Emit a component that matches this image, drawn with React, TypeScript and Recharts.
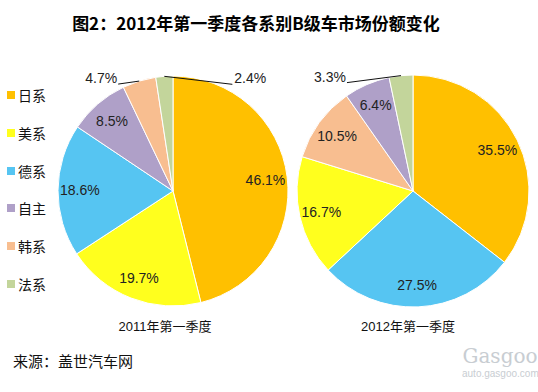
import { Pie, PieChart, Cell } from "recharts";

const brands = ["日系", "美系", "德系", "自主", "韩系", "法系"];
const colors = ["#FFC000", "#FFFF1E", "#56C5F2", "#AFA0C8", "#F8BE90", "#C3D59B"];

// 2011Q1, clockwise from 12 o'clock
const order2011 = ["日系", "美系", "德系", "自主", "韩系", "法系"];
const share2011 = [46.1, 19.7, 18.6, 8.5, 4.7, 2.4];

// 2012Q1, clockwise from 12 o'clock
const order2012 = ["日系", "德系", "美系", "韩系", "自主", "法系"];
const share2012 = [35.5, 27.5, 16.7, 10.5, 6.4, 3.3];

const font = "'Liberation Sans', Arial, 'Noto Sans CJK SC', sans-serif";
const RAD = Math.PI / 180;

// leader-line end offsets for the thin slices (from slice edge)
const callouts2011: Record<string, [number, number]> = { 韩系: [-21, 3], 法系: [68, 8] };
const callouts2012: Record<string, [number, number]> = { 法系: [-54, 7] };

function makeLabel(callouts: Record<string, [number, number]>) {
  return (props: any) => {
    const { cx, cy, midAngle, outerRadius, payload, value } = props;
    const text = `${value.toFixed(1)}%`;
    const co = callouts[payload.name];
    if (co) {
      const sx = cx + outerRadius * Math.cos(-midAngle * RAD);
      const sy = cy + outerRadius * Math.sin(-midAngle * RAD);
      const ex = sx + co[0];
      const ey = sy + co[1];
      const left = co[0] < 0;
      return (
        <g>
          <line x1={sx} y1={sy} x2={ex} y2={ey} stroke="#111" strokeWidth={1} />
          <text x={left ? ex - 1 : ex + 2} y={ey - 6} textAnchor={left ? "end" : "start"}
            dominantBaseline="central" fontSize={14} fill="#222" fontFamily={font}>{text}</text>
        </g>
      );
    }
    const r = outerRadius * 0.81;
    const x = cx + r * Math.cos(-midAngle * RAD);
    const y = cy + r * Math.sin(-midAngle * RAD);
    return (
      <text x={x} y={y} textAnchor="middle" dominantBaseline="central" fontSize={14}
        fill="#222" fontFamily={font}>{text}</text>
    );
  };
}

const rows2011 = order2011.map((name, i) => ({ name, value: share2011[i] }));
const rows2012 = order2012.map((name, i) => ({ name, value: share2012[i] }));
const colorOf = (name: string) => colors[brands.indexOf(name)];

export default function App() {
  return (
    <div style={{ position: "absolute", left: 0, top: 0, width: 538, height: 392, background: "#fff", fontFamily: font }}>
      <div style={{ position: "absolute", left: 0, width: 512, top: 10, textAlign: "center", fontSize: 17, fontWeight: "bold", color: "#000", fontFamily: "'Noto Sans CJK SC', sans-serif" }}>
        图2：2012年第一季度各系别B级车市场份额变化
      </div>
      <PieChart width={538} height={320} margin={{ top: 0, right: 0, bottom: 0, left: 0 }}
        style={{ position: "absolute", left: 0, top: 0 }}>
        <Pie data={rows2011} dataKey="value" nameKey="name" cx={173} cy={191} outerRadius={115}
          startAngle={90} endAngle={-270} stroke="#fff" strokeWidth={1} labelLine={false}
          label={makeLabel(callouts2011)} isAnimationActive={false}>
          {rows2011.map((r) => <Cell key={r.name} fill={colorOf(r.name)} />)}
        </Pie>
        <Pie data={rows2012} dataKey="value" nameKey="name" cx={413} cy={191} outerRadius={116}
          startAngle={90} endAngle={-270} stroke="#fff" strokeWidth={1} labelLine={false}
          label={makeLabel(callouts2012)} isAnimationActive={false}>
          {rows2012.map((r) => <Cell key={r.name} fill={colorOf(r.name)} />)}
        </Pie>
      </PieChart>
      {brands.map((b, i) => (
        <div key={b} style={{ position: "absolute", left: 7, top: 95 + i * 37.8 - 10, height: 20, display: "flex", alignItems: "center", fontSize: 14, color: "#111", fontFamily: "'Noto Sans CJK SC', sans-serif" }}>
          <span style={{ display: "inline-block", width: 8, height: 8, background: colors[i], marginRight: 3 }} />
          {b}
        </div>
      ))}
      <div style={{ position: "absolute", left: 65, width: 200, top: 316, textAlign: "center", fontSize: 13, color: "#111" }}>2011年第一季度</div>
      <div style={{ position: "absolute", left: 308, width: 200, top: 316, textAlign: "center", fontSize: 13, color: "#111" }}>2012年第一季度</div>
      <div style={{ position: "absolute", left: 13, top: 350, fontSize: 15, color: "#111", fontFamily: "'Noto Sans CJK SC', sans-serif" }}>来源：盖世汽车网</div>
      <div style={{ position: "absolute", left: 462, top: 346, width: 76, textAlign: "center", color: "#c8cdd2" }}>
        <div style={{ fontSize: 20, fontFamily: "'DejaVu Serif', serif", lineHeight: "20px" }}>Gasgoo</div>
        <div style={{ fontSize: 10, lineHeight: "12px", marginTop: 2 }}>auto.gasgoo.com</div>
      </div>
    </div>
  );
}
